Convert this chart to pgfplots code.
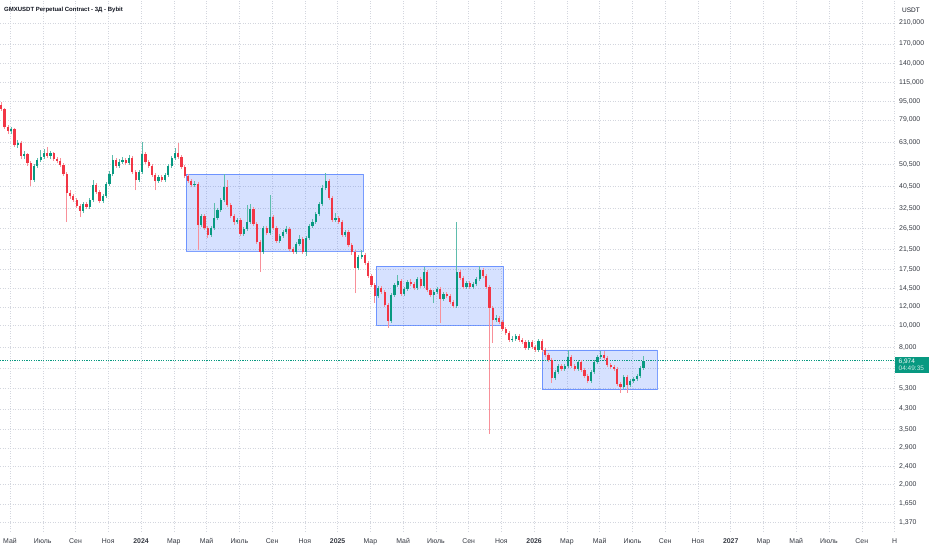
\documentclass[border=0pt]{standalone}
\usepackage{pgfplots}
\pgfplotsset{compat=1.18}
\usepackage{pgfplotstable}
\usepackage{fontspec}
\setmainfont{Liberation Sans}
\definecolor{tvgreen}{HTML}{089981}
\definecolor{tvred}{HTML}{F23645}
\definecolor{tvblue}{HTML}{2962FF}
\definecolor{tvtext}{HTML}{131722}
\definecolor{tvgrid}{HTML}{D3D6DE}

% x = months since Jan 2024 ; o h l c = 3-day candle OHLC ; d = 1 rising, 0 falling
\pgfplotstableread{
x o h l c d
-8.53 91900 94700 86500 88300 0
-8.33 88300 89200 72200 73600 0
-8.13 73600 75100 68600 70700 0
-7.93 70700 73600 68600 72200 1
-7.73 72200 72900 60200 61400 0
-7.53 61400 64600 59600 62700 1
-7.33 62700 64000 53300 55000 0
-7.13 55000 57800 53300 56100 1
-6.93 56100 56700 49700 51200 0
-6.73 51200 52300 40600 43200 0
-6.53 43200 50700 42300 49700 1
-6.33 49700 53900 48700 52800 1
-6.13 52800 58400 51700 54400 1
-5.93 54400 59000 53300 56700 1
-5.73 56700 60200 53900 55000 0
-5.53 55000 57800 53300 56700 1
-5.33 56700 57200 52300 53300 0
-5.13 53300 54400 51200 52300 0
-4.93 52300 53900 49200 50200 0
-4.73 50200 51200 44900 45800 0
-4.53 45800 46800 28300 37900 0
-4.33 37900 39000 35700 36700 0
-4.13 36700 37500 34600 35300 0
-3.93 35300 36000 32600 33200 0
-3.73 33200 33900 29700 31600 0
-3.53 31600 34600 31000 33900 1
-3.33 33900 34600 32200 32900 0
-3.13 32900 36000 32200 35300 1
-2.93 35300 43200 34600 41000 1
-2.73 41000 41900 37500 38200 0
-2.53 38200 39000 34200 34900 0
-2.33 34900 37500 34200 36700 1
-2.13 36700 42300 36000 41400 1
-1.93 41400 47300 40600 45800 1
-1.73 45800 55500 44900 52800 1
-1.53 52800 53900 48700 49700 0
-1.33 49700 53300 48700 51700 1
-1.13 51700 54400 50700 52800 1
-0.93 52800 53900 50200 51200 0
-0.73 51200 55500 50200 53900 1
-0.53 53900 55000 45800 46800 0
-0.33 46800 47700 39000 43200 0
-0.13 43200 47700 42300 46800 1
0.07 46800 63300 45800 56100 1
0.27 56100 57200 50700 51700 0
0.47 51700 52800 48700 49700 0
0.67 49700 50700 44500 45400 0
0.87 45400 46300 39000 42700 0
1.07 42700 45400 41900 44500 1
1.27 44500 45400 42300 43200 0
1.47 43200 46300 42300 45400 1
1.67 45400 50700 44500 49700 1
1.87 49700 55000 48700 53900 1
2.07 53900 59600 52800 56700 1
2.27 56700 62700 53300 54400 0
2.47 54400 55500 48200 49200 0
2.67 49200 50200 44000 44900 0
2.87 44900 45800 41900 42700 0
3.07 42700 43600 40200 41000 0
3.27 41000 42700 40200 41400 1
3.47 41400 42300 21300 27400 0
3.67 27400 30600 26900 30000 1
3.87 30000 30600 26100 26600 0
4.07 26600 27200 24100 24800 0
4.27 24800 27200 24300 26600 1
4.47 26600 34200 26100 29400 1
4.67 29400 32600 28900 31900 1
4.87 31900 36000 31300 35300 1
5.07 35300 45800 34600 40200 1
5.27 40200 43200 32900 33600 0
5.47 33600 34200 29400 30000 0
5.67 30000 30600 27400 28300 0
5.87 28300 29400 27700 28900 1
6.07 28900 29400 24600 25100 0
6.27 25100 26900 24600 26400 1
6.47 26400 33600 25800 28300 1
6.67 28300 33900 27700 32200 1
6.87 32200 32900 27200 27700 0
7.07 27700 28300 22700 23100 0
7.27 23100 23600 17100 20900 0
7.47 20900 27200 20500 26600 1
7.67 26600 27200 24800 25300 0
7.87 25300 37100 24800 29700 1
8.07 29700 30300 26100 26600 0
8.27 26600 27200 22900 23400 0
8.47 23400 25100 22900 24600 1
8.67 24600 26100 24100 25600 1
8.87 25600 27200 25100 26400 1
9.07 26400 26900 21100 21600 0
9.27 21600 22000 20500 20900 0
9.47 20900 23100 20500 22700 1
9.67 22700 24800 22200 23800 1
9.87 23800 24300 20500 20900 0
10.07 20900 24600 20100 24100 1
10.27 24100 27700 23600 27200 1
10.47 27200 29100 26600 28300 1
10.67 28300 31300 27700 30600 1
10.87 30600 34600 30000 33900 1
11.07 33900 41000 33200 39800 1
11.27 39800 46300 39000 42700 1
11.47 42700 43600 35300 36000 0
11.67 36000 36700 28300 28900 0
11.87 28900 31000 28300 29400 1
12.07 29400 30000 27700 28300 0
12.27 28300 28900 24300 24800 0
12.47 24800 26100 24300 25600 1
12.67 25600 26100 22000 22400 0
12.87 22400 22900 20300 20900 0
13.07 20900 21300 13800 17800 0
13.27 17800 20300 17400 19900 1
13.47 19900 21300 19500 20300 1
13.67 20300 20700 18300 18700 0
13.87 18700 19100 16100 16400 0
14.07 16400 16700 14700 15000 0
14.27 15000 15300 12500 13400 0
14.47 13400 14800 13200 14500 1
14.67 14500 14800 13700 14000 0
14.87 14000 14300 12000 12300 0
15.07 12300 12500 9710 10400 0
15.27 10400 13800 10200 13600 1
15.47 13600 15300 13300 15000 1
15.67 15000 16600 14700 15600 1
15.87 15600 15900 13400 13700 0
16.07 13700 14700 13400 14400 1
16.27 14400 15800 14100 15400 1
16.47 15400 15900 14800 15100 0
16.67 15100 15400 14300 14500 0
16.87 14500 16200 14300 15900 1
17.07 15900 16200 14500 14800 0
17.27 14800 18000 14500 17100 1
17.47 17100 17400 14000 14300 0
17.67 14300 14500 13300 13600 0
17.87 13600 14300 12500 14000 1
18.07 14000 14700 13700 14400 1
18.27 14400 14700 10200 13000 0
18.47 13000 14000 12800 13700 1
18.67 13700 14000 13200 13400 0
18.87 13400 13700 12400 12600 0
19.07 12600 12900 11900 12100 0
19.27 12100 28300 11900 17100 1
19.47 17100 17400 15800 16100 0
19.67 16100 16400 14400 14700 0
19.87 14700 15600 14400 15300 1
20.07 15300 15600 14400 14700 0
20.27 14700 15400 14400 15100 1
20.47 15100 16200 14800 15900 1
20.67 15900 18100 15600 17400 1
20.87 17400 17800 16100 16400 0
21.07 16400 16700 14400 14700 0
21.27 14700 15000 3340 11900 0
21.47 11900 12100 8350 10500 0
21.67 10500 11100 10300 10700 1
21.87 10700 11000 10100 10300 0
22.07 10300 10500 9420 9610 0
22.27 9610 9800 9050 9240 0
22.47 9240 9420 8440 8610 0
22.67 8610 8960 8440 8700 1
22.87 8700 9140 8520 8960 1
23.07 8960 9140 8440 8610 0
23.27 8610 8780 8270 8440 0
23.47 8440 8610 7780 7940 0
23.67 7940 8610 7780 8440 1
23.87 8440 8610 7860 8020 0
24.07 8020 8190 7630 7780 0
24.27 7780 8700 7630 8520 1
24.47 8520 8700 7630 7780 0
24.67 7780 7940 7250 7400 0
24.87 7400 7550 6900 7040 0
25.07 7040 7180 5580 5870 0
25.27 5870 6360 5750 6240 1
25.47 6240 6760 6110 6630 1
25.67 6630 6760 6300 6430 0
25.87 6430 6760 6300 6630 1
26.07 6630 7780 6490 7250 1
26.27 7250 7400 6490 6630 0
26.47 6630 6760 6300 6430 0
26.67 6430 7040 6300 6900 1
26.87 6900 7040 6240 6360 0
27.07 6360 6490 5870 5990 0
27.27 5990 6110 5580 5690 0
27.47 5690 6360 5580 6240 1
27.67 6240 7040 6110 6900 1
27.87 6900 7400 6760 7250 1
28.07 7250 7700 7110 7400 1
28.27 7400 7700 7040 7180 0
28.47 7180 7330 6560 6690 0
28.67 6690 6830 6430 6560 0
28.87 6560 6690 6300 6430 0
29.07 6430 6560 5410 5520 0
29.27 5520 5640 5050 5360 0
29.47 5360 6050 5250 5930 1
29.67 5930 6050 5050 5470 0
29.87 5470 5810 5360 5690 1
30.07 5690 5930 5580 5810 1
30.27 5810 6110 5690 5990 1
30.47 5990 6630 5870 6490 1
30.67 6490 7330 6360 6974 1
}\candles

\begin{document}
\begin{tikzpicture}
\fill[white] (0pt,-18pt) rectangle (932pt,532pt);
\path[use as bounding box] (0pt,-18pt) rectangle (932pt,532pt);
\begin{axis}[
  at={(0pt,0pt)}, anchor=south west,
  scale only axis, width=895pt, height=532pt,
  xmin=-8.61, xmax=46.03,
  ymode=log, ymin=1242, ymax=264800,
  axis line style={draw=none},
  major tick length=0pt,
  xtick={-8,-6,...,46},
  xticklabels={Май,Июль,Сен,Ноя,\textbf{2024},Мар,Май,Июль,Сен,Ноя,\textbf{2025},Мар,Май,Июль,Сен,Ноя,\textbf{2026},Мар,Май,Июль,Сен,Ноя,\textbf{2027},Мар,Май,Июль,Сен,Н},
  ytick={1370,1650,2000,2400,2900,3500,4300,5300,6500,8000,10000,12000,14500,17500,21500,26500,32500,40500,50500,63000,79000,95000,115000,140000,170000,210000},
  yticklabels={{1,370},{1,650},{2,000},{2,400},{2,900},{3,500},{4,300},{5,300},{},{8,000},{10,000},{12,000},{14,500},{17,500},{21,500},{26,500},{32,500},{40,500},{50,500},{63,000},{79,000},{95,000},{115,000},{140,000},{170,000},{210,000}},
  yticklabel pos=right,
  grid=major,
  major grid style={tvgrid, line width=0.5pt, dash pattern=on 1pt off 1.5pt},
  tick label style={font=\fontsize{6.9}{8}\selectfont, text=tvtext!85},
  yticklabel style={anchor=west, inner sep=0pt, xshift=4pt},
  xticklabel style={anchor=base, inner sep=0pt, yshift=-11.5pt},
  clip=false,
  candle/.style={forget plot, draw=none, mark=none,
    error bars/y dir=plus, error bars/y explicit, error bars/error mark=none},
]
% rectangles (ranges)
\addplot[forget plot, draw=tvblue, draw opacity=0.6, line width=0.9pt, fill=tvblue, fill opacity=0.19, line join=miter, mark=none]
  coordinates {(2.75,45800) (13.58,45800) (13.58,21100) (2.75,21100) (2.75,45800)};
\addplot[forget plot, draw=tvblue, draw opacity=0.6, line width=0.9pt, fill=tvblue, fill opacity=0.19, line join=miter, mark=none]
  coordinates {(14.35,18100) (22.10,18100) (22.10,9970) (14.35,9970) (14.35,18100)};
\addplot[forget plot, draw=tvblue, draw opacity=0.6, line width=0.9pt, fill=tvblue, fill opacity=0.19, line join=miter, mark=none]
  coordinates {(24.48,7780) (31.50,7780) (31.50,5200) (24.48,5200) (24.48,7780)};

% last price line
\addplot[forget plot, color=tvgreen, mark=none, line width=0.7pt, dash pattern=on 1.2pt off 1.2pt]
  coordinates {(-8.61,6974) (46.03,6974)};

% wicks
\addplot[candle, restrict expr to domain={\thisrow{d}}{0.5:1.5},
  error bars/error bar style={draw=tvgreen!65, line width=0.7pt}]
  table[x=x, y=l, y error expr=\thisrow{h}-\thisrow{l}] {\candles};
\addplot[candle, restrict expr to domain={\thisrow{d}}{-0.5:0.5},
  error bars/error bar style={draw=tvred!55, line width=0.7pt}]
  table[x=x, y=l, y error expr=\thisrow{h}-\thisrow{l}] {\candles};
% bodies
\addplot[candle, restrict expr to domain={\thisrow{d}}{0.5:1.5},
  error bars/error bar style={draw=tvgreen, line width=2.2pt}]
  table[x=x, y=o, y error expr=\thisrow{c}-\thisrow{o}] {\candles};
\addplot[candle, restrict expr to domain={\thisrow{d}}{-0.5:0.5},
  error bars/error bar style={draw=tvred, line width=2.2pt}]
  table[x=x, y=c, y error expr=\thisrow{o}-\thisrow{c}] {\candles};

\node[anchor=west, inner sep=0pt, text=tvtext, font=\bfseries\fontsize{6}{7}\selectfont]
  at (rel axis cs:0.0045,0.9812) {GMXUSDT Perpetual Contract - 3Д - Bybit};
\node[anchor=west, inner sep=0pt, text=tvtext, font=\fontsize{6.5}{7}\selectfont]
  at (rel axis cs:1.0078,0.9812) {USDT};
\node[anchor=north west, fill=tvgreen, text=white, inner xsep=3.5pt, inner ysep=1.6pt,
  text width=27pt, align=left, font=\fontsize{6.5}{7.8}\selectfont]
  at (rel axis cs:1,0.3295) {6,974\\\textcolor{white!80!tvgreen}{04:49:35}};
\end{axis}
\end{tikzpicture}
\end{document}
